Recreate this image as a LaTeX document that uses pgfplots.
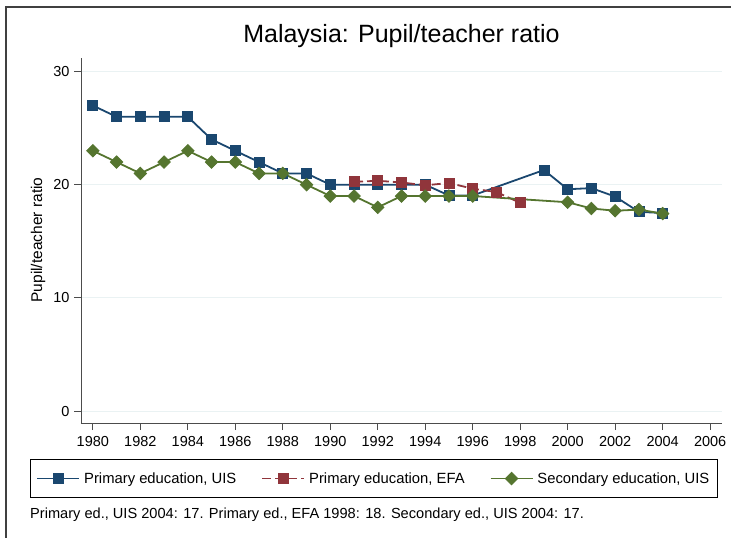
\documentclass[border=0pt]{standalone}
\usepackage{fontspec}
\setmainfont{Liberation Sans}
\usepackage{pgfplots}
\pgfplotsset{compat=1.18}
\definecolor{sblue}{HTML}{1A476F}
\definecolor{sred}{HTML}{90353B}
\definecolor{sgreen}{HTML}{55752F}
\definecolor{sgrid}{HTML}{EAF2F3}
\begin{document}
\begin{tikzpicture}[x=1pt,y=1pt]
\useasboundingbox (0,0) rectangle (731,-538);
\fill[black!75] (5.4,-538) rectangle (6.6,-6.4);
\fill[black!75] (5.4,-6.4) rectangle (731,-7.6);
\begin{axis}[
 at={(81pt,-423pt)}, anchor=south west,
 scale only axis, width=641pt, height=365pt,
 xmin=1979.5, xmax=2006.5, ymin=-1.06, ymax=31.2,
 axis x line*=bottom, axis y line*=left,
 axis line style={black!70, line width=0.9pt},
 xtick={1980,1982,...,2006}, ytick={0,10,20,30},
 tick align=outside, major tick length=7pt,
 tick style={black!70, line width=0.9pt},
 ymajorgrids, grid style={sgrid, line width=1pt},
 /pgf/number format/assume math mode=true,
 /pgf/number format/1000 sep={},
 tick label style={font=\fontsize{14.5}{16}\selectfont},
 xticklabel style={yshift=-3pt},
 yticklabel style={xshift=-1pt},
 title={Malaysia: Pupil/teacher ratio},
 title style={at={(axis description cs:0.5,1)}, anchor=base, yshift=9pt, font=\fontsize{25}{28}\selectfont},
 legend columns=3,
 legend style={at={(axis description cs:0,0)}, anchor=north west, xshift=-51pt, yshift=-36pt,
   draw=black, line width=0.8pt, font=\fontsize{14.8}{17}\selectfont, inner xsep=6pt, inner ysep=11pt,
   /tikz/every even column/.append style={column sep=23pt},
   /tikz/every odd column/.append style={column sep=2pt}},
 legend image code/.code={\draw[mark repeat=2,mark phase=2] plot coordinates {(0pt,0pt)(21pt,0pt)(42pt,0pt)};},
]
\addplot[sblue, line width=1.8pt, mark=square*, mark size=5pt, mark options={solid, fill=sblue, line width=0.8pt}] coordinates {
(1980,27)(1981,26)(1982,26)(1983,26)(1984,26)(1985,24)(1986,23)(1987,22)(1988,21)(1989,21)
(1990,20)(1991,20)(1992,20)(1993,20)(1994,20)(1995,19.05)(1996,19.05)(1999,21.3)(2000,19.6)
(2001,19.7)(2002,18.95)(2003,17.6)(2004,17.5)};
\addlegendentry{Primary education, UIS}
\addplot[sred, line width=1.8pt, dash pattern=on 9pt off 4pt, mark=square*, mark size=5pt, mark options={solid, fill=sred, line width=0.8pt}] coordinates {
(1991,20.25)(1992,20.35)(1993,20.2)(1994,19.95)(1995,20.15)(1996,19.65)(1997,19.35)(1998,18.4)};
\addlegendentry{Primary education, EFA}
\addplot[sgreen, line width=1.8pt, mark=square*, mark size=4.4pt, mark options={solid, fill=sgreen, rotate=45, line width=0.8pt}] coordinates {
(1980,23)(1981,22)(1982,21)(1983,22)(1984,23)(1985,22)(1986,22)(1987,21)(1988,21)(1989,20)
(1990,19)(1991,19)(1992,18)(1993,19)(1994,19)(1995,19)(1996,19)(2000,18.45)(2001,17.9)
(2002,17.7)(2003,17.8)(2004,17.45)};
\addlegendentry{Secondary education, UIS}
\end{axis}
\node[rotate=90, anchor=center, inner sep=0pt, font=\fontsize{15.5}{18}\selectfont] at (38,-240) {Pupil/teacher ratio};
\node[anchor=west, inner sep=0pt, font=\fontsize{14.6}{17}\selectfont] at (30,-515) {Primary ed., UIS 2004: 17. Primary ed., EFA 1998: 18. Secondary ed., UIS 2004: 17.};
\end{tikzpicture}
\end{document}
